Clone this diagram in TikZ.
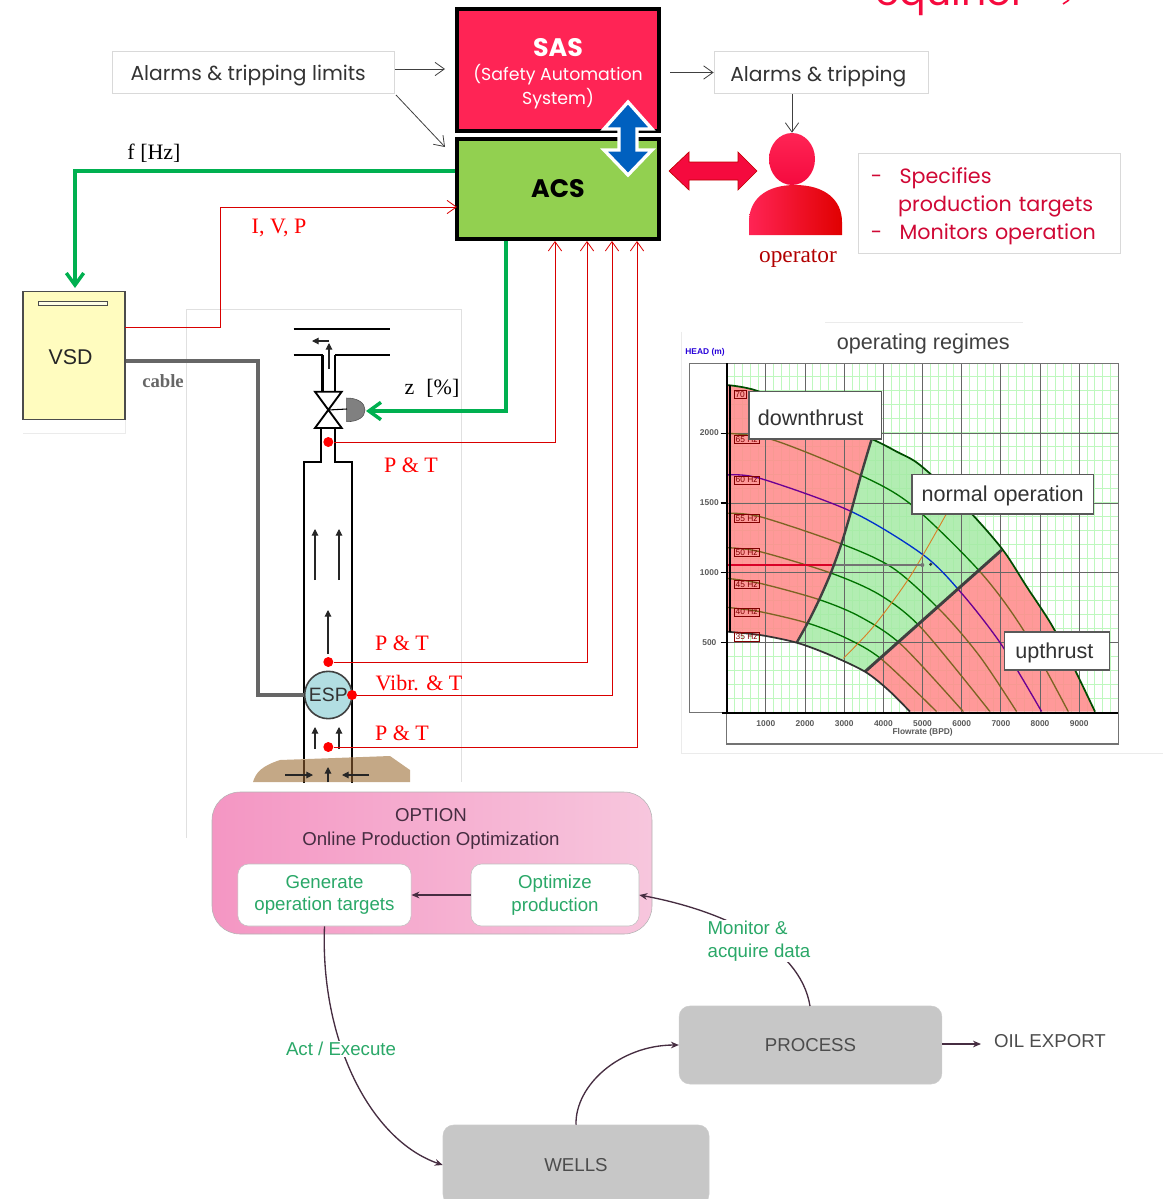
\documentclass[tikz,border=0pt]{standalone}
\usepackage{fontspec}
\usepackage{tikz}
\usetikzlibrary{arrows.meta,shapes.geometric}
\newfontfamily\eqfont{Poppins}
\newfontfamily\sansfont{Liberation Sans}
\newfontfamily\serifont{Liberation Serif}
\definecolor{sasred}{RGB}{255,36,85}
\definecolor{acsgreen}{RGB}{146,208,80}
\definecolor{linegreen}{RGB}{0,176,80}
\definecolor{eqred}{RGB}{245,10,62}
\definecolor{optgreen}{RGB}{42,168,104}
\definecolor{optdark}{RGB}{70,45,65}
\definecolor{optleft}{RGB}{244,150,195}
\definecolor{optright}{RGB}{247,198,221}
\definecolor{zonered}{RGB}{255,140,140}
\definecolor{zonegreen}{RGB}{165,235,165}
\definecolor{gridgreen}{RGB}{190,248,190}
\definecolor{espblue}{RGB}{178,222,226}
\definecolor{rockbrown}{RGB}{196,168,134}
\definecolor{curveolive}{RGB}{125,100,35}
\newcommand{\lowtext}[2]{\raisebox{-#1}[0pt][0pt]{#2}}
\tikzset{
  barb/.style={-{Straight Barb[length=7pt,width=10pt]}},
  bigbox/.style={draw=black,line width=3pt,inner sep=0pt},
  notebox/.style={draw=black!15,line width=0.6pt,fill=white,inner sep=0pt},
  thinline/.style={draw=black!75,line width=0.6pt,barb},
  redline/.style={draw=red!85!black,line width=0.6pt,barb},
  greenline/.style={draw=linegreen,line width=3.3pt,-{Straight Barb[length=9pt,width=13pt,line width=2.6pt]}},
  redlabel/.style={text=red,font=\serifont\fontsize{16.5}{18}\selectfont,inner sep=0pt},
  sensor/.style={circle,fill=red,inner sep=0pt,minimum size=7.5pt},
  pipe/.style={draw=black,line width=1.9pt},
  flowarrow/.style={draw=black!85,line width=0.8pt,-{Triangle[length=5pt,width=5pt]}},
  graybox/.style={draw=black!20,rounded corners=8pt,fill=black!22,inner sep=0pt,text=black!70,font=\sansfont\fontsize{14}{16}\selectfont},
  whitebox/.style={draw=black!25,rounded corners=8pt,fill=white,inner sep=0pt,text=optgreen,align=center,font=\sansfont\fontsize{14}{17}\selectfont},
  steptext/.style={fill=white,inner sep=1pt,text=optgreen,align=left,font=\sansfont\fontsize{14}{17}\selectfont},
  darkarrow/.style={draw=optdark,line width=1pt,-{Stealth[length=6pt,width=5pt]}},
  zonelabel/.style={draw=black!65,line width=0.8pt,fill=white,inner sep=0pt,text=black!80,font=\sansfont\fontsize{16.2}{18}\selectfont},
  freqtag/.style={draw=red!50!black,line width=0.3pt,inner sep=0.8pt,text=red!50!black,font=\sansfont\fontsize{6.3}{7}\selectfont},
  ticktext/.style={text=black!65,font=\sansfont\bfseries\fontsize{6.3}{7}\selectfont,inner sep=0pt}
}
% pump map zones, in the coordinates of the scope below
\newcommand{\greenzone}{plot[smooth] coordinates {(575,357) (650,395) (720,435) (850,555) (965,685)} -- (555,1055) -- plot[smooth] coordinates {(555,1055) (450,1005) (350,968)} -- plot[smooth] coordinates {(350,968) (385,905) (418,838) (452,760) (484,672) (513,575) (543,465) (575,357)} -- cycle}
\newcommand{\redleftzone}{(140,195) -- plot[smooth] coordinates {(140,195) (230,212) (400,285) (575,357)} -- plot[smooth] coordinates {(575,357) (543,465) (513,575) (484,672) (452,760) (418,838) (385,905) (350,968)} -- plot[smooth] coordinates {(350,968) (240,945) (150,935)} -- (150,935) -- (140,935) -- cycle}
\newcommand{\redrightzone}{plot[smooth] coordinates {(965,688) (1040,800) (1115,915) (1180,1040) (1245,1175)} -- (690,1175) -- plot[smooth] coordinates {(690,1175) (625,1110) (555,1055)} -- cycle}
\newcommand{\headcurves}{
  \draw plot[smooth] coordinates {(140,340) (280,360) (540,465) (695,555) (900,755) (1030,930) (1165,1175)};
  \draw plot[smooth] coordinates {(140,580) (240,590) (485,672) (640,745) (785,875) (900,1010) (1010,1175)};
  \draw plot[smooth] coordinates {(140,683) (240,695) (455,760) (600,825) (725,925) (930,1175)};
  \draw plot[smooth] coordinates {(140,775) (240,790) (415,838) (540,890) (665,975) (850,1175)};
  \draw plot[smooth] coordinates {(140,862) (240,875) (385,910) (500,955) (605,1018) (770,1175)};
}
\newcommand{\speedcurve}{\draw plot[smooth] coordinates {(140,465) (240,475) (515,575) (730,705) (845,820) (965,975) (1085,1175)};}
\begin{document}
\begin{tikzpicture}[x=0.75pt,y=0.75pt,yscale=-1,xscale=1]
\useasboundingbox (0,0) rectangle (1171,1199);

% logo, cut by the top of the page
\node (logo) [anchor=base,text=eqred,inner sep=0pt,font=\eqfont\fontsize{29.5}{32}\selectfont] at (951,6) {equinor};
\coordinate (logostar) at (1063,4);
\draw [eqred,line width=1.2pt] (logostar) -- +(6,-4);

% faint frame of the well sketch
\draw [black!12,line width=0.6pt] (186,838) -- (186,309) -- (461,309) -- (461,782);
\draw [black!8,line width=0.5pt] (23,433) -- (125,433) -- (125,420);

% control blocks
\node (sas) [bigbox,fill=sasred,minimum width=151.5pt,minimum height=91.5pt] at (558,70) {};
\node (sastext) [text=white,inner sep=0pt,align=center,font=\eqfont\fontsize{13}{18}\selectfont] at (558,74) {{\fontsize{19}{24}\selectfont\bfseries SAS}\\(Safety Automation\\System)};
\node (acs) [bigbox,fill=acsgreen,minimum width=151.5pt,minimum height=75pt,font=\eqfont\fontsize{19}{22}\selectfont\bfseries] at (558,189) {ACS};
\node (limits) [notebox,text=black!80,minimum width=211pt,minimum height=31.5pt,font=\eqfont\fontsize{15.2}{18}\selectfont] at (253.5,72) {\hspace*{-8pt}\lowtext{6.5pt}{Alarms \& tripping limits}};
\node (alarms) [notebox,text=black!80,minimum width=160.5pt,minimum height=32pt,font=\eqfont\fontsize{15.2}{18}\selectfont] at (821,72.5) {\hspace*{-4pt}\lowtext{6.5pt}{Alarms \& tripping}};
\node (tasks) [notebox,minimum width=196pt,minimum height=75pt] at (989.5,203) {};
\node (tasktext) [text=eqred!85!black,inner sep=0pt,text width=184pt,align=left,font=\eqfont\fontsize{15.5}{21}\selectfont] at (989.5,206) {\hspace*{3pt}-\hspace{13pt}Specifies\\\hspace*{23.5pt}production targets\\\hspace*{3pt}-\hspace{13pt}Monitors operation};

\coordinate (limitsout) at (395,69);
\coordinate (sasin) at (445,69);
\coordinate (limitsdiag) at (396,95);
\coordinate (acsin) at (445,147);
\coordinate (sasout) at (670,72.5);
\draw [thinline] (limitsout) -- (sasin);
\draw [thinline] (limitsdiag) -- (acsin);
\draw [thinline] (sasout) -- (alarms.west);

% operator
\node (head) [ellipse,minimum width=34.5pt,minimum height=39pt,inner sep=0pt,top color=sasred,bottom color=eqred] at (792,159) {};
\shade [left color=sasred,middle color=eqred,right color=red!88!black] (749,235) -- (749,222) .. controls (749,200) and (765,185) .. (795,185) .. controls (825,185) and (842,200) .. (842,222) -- (842,235) -- cycle;
\node (operator) [text=red!70!black,inner sep=0pt,font=\serifont\fontsize{17.5}{19}\selectfont] at (798,258) {operator};
\draw [thinline] (alarms.south -| head) -- (head.north);

% block arrows
\draw [draw=white,line width=2.5pt,fill=blue!50!cyan!75!black,line join=miter] (628,102) -- (652,129) -- (637,129) -- (637,150) -- (652,150) -- (628,175) -- (604,150) -- (619,150) -- (619,129) -- (604,129) -- cycle;
\draw [draw=red!75!black,line width=0.5pt,fill=eqred] (669,171) -- (689,152) -- (689,162) -- (738,162) -- (738,152) -- (757,171) -- (738,190) -- (738,180) -- (689,180) -- (689,190) -- cycle;

% vsd
\node (vsd) [draw=black!70,line width=0.8pt,fill=yellow!25,minimum width=76.5pt,minimum height=96.5pt,inner sep=0pt,font=\sansfont\fontsize{16}{18}\selectfont,text=black!85] at (74,355.5) {\hspace*{-5pt}\lowtext{6.9pt}{VSD}};
\node (vsdslot) [draw=black!70,fill=yellow!10,line width=0.6pt,minimum width=52pt,minimum height=3.5pt,inner sep=0pt] at (73,303.5) {};

% well
\draw [pipe,line width=1.4pt] (293.5,329) -- (389.5,329);
\draw [pipe,line width=1.4pt] (293.5,355) -- (322.7,355);
\draw [pipe,line width=1.4pt] (335,355) -- (389.5,355);
\draw [flowarrow] (329,341) -- (312,341);
\draw [flowarrow] (329,369) -- (329,343);
\draw [pipe] (322.7,355) -- (322.7,391);
\draw [pipe] (335,355) -- (335,391);
\draw [pipe,line width=1.4pt] (315,391.7) -- (341.7,391.7) -- (315,428) -- (341.7,428) -- cycle;
\draw [pipe] (321,428) -- (321,462) -- (304,462) -- (304,783);
\draw [pipe] (335,428) -- (335,462) -- (352,462) -- (352,783);

\fill [fill=rockbrown] (253,782) .. controls (256,772) and (262,766) .. (280,760) -- (390,756) -- (410,770) -- (410,782) -- cycle;
\draw [draw=black!55!brown,line width=1.9pt] (304,760) -- (304,782);
\draw [draw=black!55!brown,line width=1.9pt] (352,757) -- (352,782);
\draw [flowarrow] (285,775) -- (313,775);
\draw [flowarrow] (369,775) -- (342,775);
\draw [flowarrow] (328,782) -- (328,767);

\draw [flowarrow] (315,580) -- (315,529);
\draw [flowarrow] (339,580) -- (339,529);
\draw [flowarrow] (328,654) -- (328,610);
\draw [flowarrow] (315,749) -- (315,727);
\draw [flowarrow] (339,749) -- (339,727);

% actuator on the choke
\coordinate (valvemid) at (328.3,410);
\fill [fill=black!50,draw=black!70,line width=0.4pt] (346.7,398) .. controls (358,398) and (365,403) .. (365,410) .. controls (365,417) and (358,421.7) .. (346.7,421.7) -- cycle;
\coordinate (actuator) at (366,411);
\draw [draw=black,line width=0.8pt] (valvemid) -- (347,409);

\node (esp) [circle,draw=black!75,line width=1.2pt,fill=espblue,minimum size=35.5pt,inner sep=0pt,text=black!80,font=\sansfont\fontsize{14.5}{16}\selectfont] at (328.3,695) {ESP};

\node (senstop) [sensor] at (328.3,442) {};
\node (sensmid) [sensor] at (328.3,662) {};
\node (sensesp) [sensor] at (352,695) {};
\node (sensbot) [sensor] at (328.3,747) {};

% control and measurement lines
\coordinate (acsf) at (75,288);
\coordinate (vsdout) at (125,327);
\coordinate (acsiv) at (457,207);
\coordinate (acsz) at (506,241);
\coordinate (acsa) at (555,241);
\coordinate (acsb) at (587,241);
\coordinate (acsc) at (612,241);
\coordinate (acsd) at (637,241);
\draw [greenline] (acs.west |- 0,171) -- (75,171) -- (acsf);
\draw [redline] (vsdout) -- (220,327) -- (220,207) -- (acsiv);
\draw [greenline] (acsz) -- (506,411) -- (actuator);
\draw [redline] (senstop) -| (acsa);
\draw [redline] (sensmid) -| (acsb);
\draw [redline] (sensesp) -| (acsc);
\draw [redline] (sensbot) -| (acsd);
\draw [draw=black!60,line width=3.6pt] (vsd.east |- 0,361) -- (258,361) -- (258,695) -- (esp.west);

\node (fhz) [inner sep=0pt,font=\serifont\fontsize{16.5}{18}\selectfont] at (154,153) {f [Hz]};
\node (ivp) [redlabel] at (279,228) {I, V, P};
\node (cable) [inner sep=0pt,text=black!60,font=\serifont\bfseries\fontsize{14}{16}\selectfont] at (163,381) {cable};
\node (zpct) [inner sep=0pt,font=\serifont\fontsize{16.5}{18}\selectfont] at (432,388) {z\hspace{9pt}[\%]};
\node (pttop) [redlabel] at (411,465) {P \& T};
\node (ptmid) [redlabel] at (402,643) {P \& T};
\node (vibr) [redlabel] at (419,683) {Vibr. \& T};
\node (ptbot) [redlabel] at (402,733) {P \& T};

% operating regimes chart
\begin{scope}[shift={(680,320)},x=0.25pt,y=0.25pt]
  \draw [black!8,line width=0.5pt] (435,8) -- (1028,8);
  \draw [black!8,line width=0.5pt] (3,35) -- (3,1300) -- (1450,1300);
  \fill [white] (140,130) rectangle (1315,1178);
  \foreach \xgrid in {0,1,...,49} {
    \draw [gridgreen,line width=0.6pt] ({140+\xgrid*23.5},130) -- ({140+\xgrid*23.5},1178);
  }
  \foreach \ygrid in {0,1,...,24} {
    \draw [gridgreen,line width=0.6pt] (140,{1178-\ygrid*42}) -- (1315,{1178-\ygrid*42});
  }
  \fill [zonered,fill opacity=0.88] \redleftzone;
  \fill [zonered,fill opacity=0.88] \redrightzone;
  \fill [zonegreen,fill opacity=0.85] \greenzone;
  \foreach \xgrid in {1,...,9} {
    \draw [black!60,line width=0.6pt] ({140+\xgrid*117.5},130) -- ({140+\xgrid*117.5},1178);
  }
  \foreach \ygrid in {1,...,4} {
    \draw [black!60,line width=0.6pt] (140,{1178-\ygrid*209.7}) -- (1315,{1178-\ygrid*209.7});
  }
  \draw [black!55,line width=0.8pt] (140,130) -- (1315,130) -- (1315,1272) -- (140,1272) -- (140,1178) -- (28,1178) -- (28,130) -- (140,130);

  \begin{scope}[color=green!45!black,line width=1pt]
    \clip \greenzone;
    \headcurves
  \end{scope}
  \begin{scope}[color=curveolive,line width=1pt]
    \clip \redleftzone;
    \headcurves
  \end{scope}
  \begin{scope}[color=curveolive,line width=1pt]
    \clip \redrightzone;
    \headcurves
  \end{scope}
  \begin{scope}[color=blue!75!cyan!80!black,line width=1pt]
    \clip \greenzone;
    \speedcurve
  \end{scope}
  \begin{scope}[color=violet!85!blue,line width=1pt]
    \clip \redleftzone;
    \speedcurve
  \end{scope}
  \begin{scope}[color=violet!85!blue,line width=1pt]
    \clip \redrightzone;
    \speedcurve
  \end{scope}

  \draw [brown!60!orange,line width=0.7pt] plot[smooth] coordinates {(490,1015) (580,920) (690,770) (800,580)};
  \draw [red!70!violet,line width=0.8pt] (140,735) -- (455,735);
  \draw [black!55,line width=0.8pt] (455,735) -- (725,735);
  \fill [black!55] (727,735) circle (6);
  \fill [black!80] (752,733) circle (5);

  % zone borders
  \draw [black!75,line width=1.8pt] plot[smooth] coordinates {(350,968) (385,905) (418,838) (452,760) (484,672) (513,575) (543,465) (575,357)};
  \draw [black!75,line width=2.2pt] (555,1055) -- (965,690);
  \draw [green!30!black,line width=1.3pt] plot[smooth] coordinates {(140,195) (230,212) (400,285) (575,357) (650,395) (720,435) (850,555) (965,685) (1040,800) (1115,915) (1180,1040) (1245,1175)};
  \draw [black!80,line width=1.3pt] plot[smooth] coordinates {(140,935) (240,945) (350,968) (450,1005) (555,1055) (625,1110) (690,1175)};
  \draw [black,line width=1.2pt] (150,935) -- (150,195);

  \foreach \ytag/\ftag in {358/65 Hz,480/60 Hz,595/55 Hz,697/50 Hz,793/45 Hz,876/40 Hz,950/35 Hz} {
    \node [freqtag] at (200,\ytag) {\ftag};
  }
  \node (tagtop) [freqtag] at (180,223) {70};
  \draw [black,line width=1.7pt] (140,130) -- (140,1178);
  \draw [black,line width=1.7pt] (125,1178) -- (1315,1178);
  \foreach \xtick/\xval in {1/1000,2/2000,3/3000,4/4000,5/5000,6/6000,7/7000,8/8000,9/9000} {
    \node [ticktext] at ({140+\xtick*117.5},1212) {\xval};
  }
  \foreach \ytick/\yval in {1/500,2/1000,3/1500,4/2000} {
    \node [ticktext] at (88,{1178-\ytick*209.7}) {\yval};
    \draw [black,line width=0.8pt] (122,{1178-\ytick*209.7}) -- (140,{1178-\ytick*209.7});
  }
  \node (flowrate) [ticktext] at (728,1238) {Flowrate (BPD)};
  \node (headm) [ticktext,text=blue!70!violet] at (75,97) {HEAD (m)};
  \node (regimes) [inner sep=0pt,text=black!75,font=\sansfont\fontsize{16.2}{18}\selectfont] at (730,72) {operating regimes};
  \node (downthrust) [zonelabel,minimum width=99.5pt,minimum height=35.5pt] at (406,286) {\hspace*{-7pt}\lowtext{7.3pt}{downthrust}};
  \node (normalop) [zonelabel,minimum width=136pt,minimum height=29.5pt] at (968,523) {\lowtext{5.5pt}{normal operation}};
  \node (upthrust) [zonelabel,minimum width=78.5pt,minimum height=28.5pt] at (1131,993) {\hspace*{-4pt}\lowtext{5.3pt}{upthrust}};
\end{scope}

% production optimization loop
\node (option) [draw=black!30,rounded corners=21pt,left color=optleft,right color=optright,minimum width=330pt,minimum height=106.5pt,inner sep=0pt] at (432,863) {};
\node (optiontitle) [inner sep=0pt,text=optdark,align=center,font=\sansfont\fontsize{14}{17.5}\selectfont] at (431,829) {OPTION\\Online Production Optimization};
\node (generate) [whitebox,minimum width=130pt,minimum height=46.5pt] at (324.5,895) {Generate\\operation targets};
\node (optimize) [whitebox,minimum width=126pt,minimum height=46.5pt] at (555,895) {Optimize\\production};
\node (process) [graybox,minimum width=197pt,minimum height=58.5pt] at (810.5,1045) {PROCESS};
\node (wells) [graybox,minimum width=199.5pt,minimum height=60pt] at (576,1165) {WELLS};
\node (oil) [inner sep=0pt,text=black!70,font=\sansfont\fontsize{14}{16}\selectfont] at (1050,1041) {OIL EXPORT};
\coordinate (oilin) at (981,1044);

\draw [darkarrow] (optimize.west) -- (generate.east);
\draw [darkarrow] (810,1006) .. controls (800,945) and (720,910) .. (optimize.east);
\draw [darkarrow] (generate.south) .. controls (320,1040) and (370,1140) .. (wells.west);
\draw [darkarrow] (wells.north) .. controls (575,1085) and (620,1045) .. (process.west);
\draw [darkarrow] (process.east |- oilin) -- (oilin);
\node (monitor) [steptext] at (759,941) {Monitor \&\\acquire data};
\node (execute) [steptext] at (341,1049) {Act / Execute};
\end{tikzpicture}
\end{document}
